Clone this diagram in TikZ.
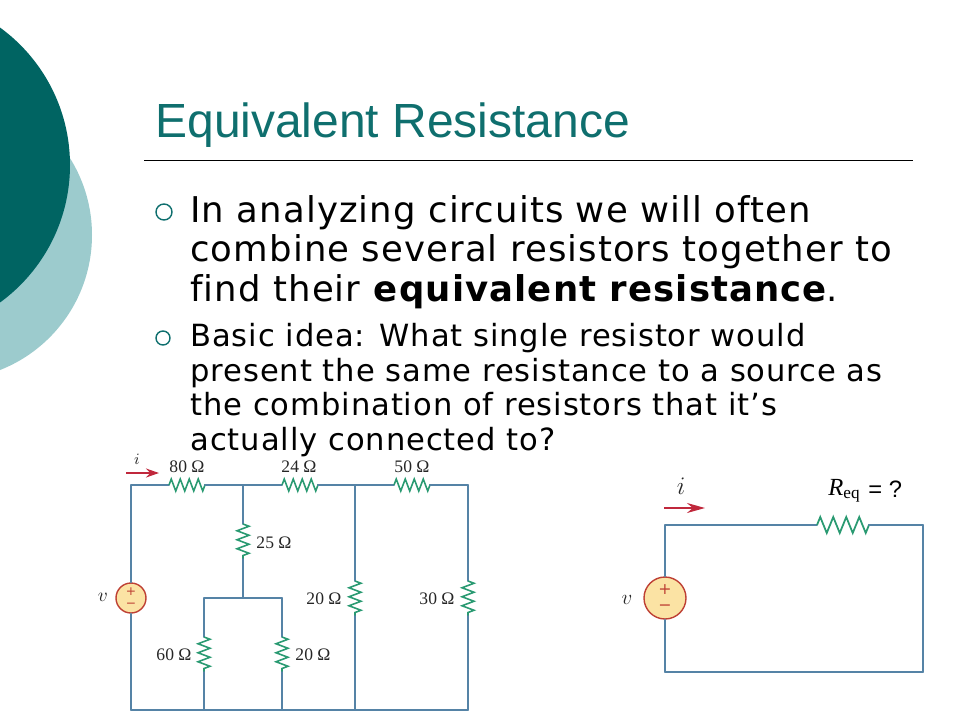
\documentclass[tikz,border=0pt]{standalone}
\usepackage{fontspec}
\setmainfont[LetterSpace=3.1,Ligatures=NoCommon]{DejaVu Sans}
\newfontfamily\titlefont{Liberation Sans}
\newfontfamily\circfont{Liberation Serif}
\newfontfamily\signfont{DejaVu Sans}
\usetikzlibrary{arrows.meta,decorations.pathmorphing}
\definecolor{tealdark}{HTML}{006462}
\definecolor{teallight}{HTML}{9CCBCD}
\definecolor{titleteal}{HTML}{0F6F6E}
\definecolor{wireblue}{HTML}{5583A6}
\definecolor{resgreen}{HTML}{2A9A72}
\definecolor{arrowred}{HTML}{C0283C}
\definecolor{srcfill}{HTML}{FBE3A4}
\definecolor{srcline}{HTML}{BE4034}
\tikzset{
  wire/.style={draw=wireblue,line width=0.9pt,line cap=round},
  res/.style={draw=resgreen,line width=0.9pt,decorate,
    decoration={zigzag,segment length=0.18cm,amplitude=0.12cm}},
  resbig/.style={draw=resgreen,line width=1pt,decorate,
    decoration={zigzag,segment length=0.26cm,amplitude=0.16cm}},
  cur/.style={draw=arrowred,line width=1pt,-{Stealth[length=2.6mm,width=1.8mm]}},
  curbig/.style={draw=arrowred,line width=1.2pt,-{Stealth[length=3.6mm,width=2mm]}},
  src/.style={circle,draw=srcline,fill=srcfill,line width=0.8pt,inner sep=0pt},
  sign/.style={text=srcline,inner sep=0pt,font=\signfont\fontsize{#1}{#1}\selectfont},
  lab/.style={anchor=base,inner sep=0pt,font=\circfont\fontsize{10}{10}\selectfont,text=black!85},
  big/.style={anchor=base west,inner sep=0pt,font=\fontsize{20.2}{23}\selectfont},
  small/.style={anchor=base west,inner sep=0pt,font=\fontsize{17.4}{20}\selectfont},
  bul/.style={circle,draw=titleteal,line width=0.8pt,inner sep=0pt}
}
\begin{document}
\begin{tikzpicture}
    \def\x{0.02}
    \def\y{-0.02}
    \useasboundingbox (0,0) rectangle (960*\x,720*\y);
    \clip (0,0) rectangle (960*\x,720*\y);
    \fill [teallight] (-53*\x,235*\y) circle [radius=145*\x];
    \fill [tealdark] (-100*\x,165*\y) circle [radius=170*\x];
    \node (T0) [anchor=base west,inner sep=0pt,text=titleteal,font=\titlefont\fontsize{27.3}{30}\selectfont] at (155*\x,137*\y) {Equivalent Resistance};
    \coordinate (T1) at (144*\x,160*\y);
    \coordinate (T2) at (913*\x,160*\y);
    \path (T1) edge [draw=black,line width=0.5pt] (T2);
    \node (B0) [bul,minimum size=16*\x cm] at (164*\x,212*\y) {};
    \node (B1) [bul,minimum size=14*\x cm] at (163*\x,338*\y) {};
    \node (L0) [big] at (190*\x,222*\y) {In analyzing circuits we will often};
    \node (L1) [big] at (190*\x,261*\y) {combine several resistors together to};
    \node (L2) [big] at (190*\x,301*\y) {find their \textbf{equivalent resistance}.};
    \node (L3) [small] at (190*\x,346*\y) {Basic idea: What single resistor would};
    \node (L4) [small] at (190*\x,381*\y) {present the same resistance to a source as};
    \node (L5) [small] at (190*\x,415*\y) {the combination of resistors that it’s};
    \node (L6) [small] at (190*\x,450*\y) {actually connected to?};
    \coordinate (A0_0) at (131*\x,485*\y);
    \coordinate (A0_1) at (169*\x,485*\y);
    \coordinate (A0_2) at (205*\x,485*\y);
    \coordinate (A0_3) at (243*\x,485*\y);
    \coordinate (A0_4) at (282*\x,485*\y);
    \coordinate (A0_5) at (318*\x,485*\y);
    \coordinate (A0_6) at (355*\x,485*\y);
    \coordinate (A0_7) at (394*\x,485*\y);
    \coordinate (A0_8) at (430*\x,485*\y);
    \coordinate (A0_9) at (468*\x,485*\y);
    \coordinate (A1_0) at (243*\x,524*\y);
    \coordinate (A1_1) at (243*\x,559*\y);
    \coordinate (A2_0) at (204*\x,598*\y);
    \coordinate (A2_1) at (243*\x,598*\y);
    \coordinate (A2_2) at (282*\x,598*\y);
    \coordinate (A3_0) at (355*\x,581*\y);
    \coordinate (A3_1) at (355*\x,616*\y);
    \coordinate (A3_2) at (468*\x,581*\y);
    \coordinate (A3_3) at (468*\x,616*\y);
    \coordinate (A4_0) at (204*\x,637*\y);
    \coordinate (A4_1) at (204*\x,672*\y);
    \coordinate (A4_2) at (282*\x,637*\y);
    \coordinate (A4_3) at (282*\x,672*\y);
    \coordinate (A5_0) at (131*\x,710*\y);
    \coordinate (A5_1) at (204*\x,710*\y);
    \coordinate (A5_2) at (282*\x,710*\y);
    \coordinate (A5_3) at (355*\x,710*\y);
    \coordinate (A5_4) at (468*\x,710*\y);
    \coordinate (A6_0) at (126*\x,473*\y);
    \coordinate (A6_1) at (159*\x,473*\y);
    \node (A_src) [src,minimum size=30*\x cm] at (131*\x,598*\y) {};
    \path (A_src) edge [wire] (A0_0);
    \path (A_src) edge [wire] (A5_0);
    \path (A0_0) edge [wire] (A0_1);
    \path (A0_1) edge [res] (A0_2);
    \path (A0_2) edge [wire] (A0_4);
    \path (A0_4) edge [res] (A0_5);
    \path (A0_5) edge [wire] (A0_7);
    \path (A0_7) edge [res] (A0_8);
    \path (A0_8) edge [wire] (A0_9);
    \path (A0_3) edge [wire] (A1_0);
    \path (A1_0) edge [res] (A1_1);
    \path (A1_1) edge [wire] (A2_1);
    \path (A2_0) edge [wire] (A2_2);
    \path (A2_0) edge [wire] (A4_0);
    \path (A4_0) edge [res] (A4_1);
    \path (A4_1) edge [wire] (A5_1);
    \path (A2_2) edge [wire] (A4_2);
    \path (A4_2) edge [res] (A4_3);
    \path (A4_3) edge [wire] (A5_2);
    \path (A0_6) edge [wire] (A3_0);
    \path (A3_0) edge [res] (A3_1);
    \path (A3_1) edge [wire] (A5_3);
    \path (A0_9) edge [wire] (A3_2);
    \path (A3_2) edge [res] (A3_3);
    \path (A3_3) edge [wire] (A5_4);
    \path (A5_0) edge [wire] (A5_4);
    \path (A6_0) edge [cur] (A6_1);
    \node (P0) [sign=7] at (131*\x,592*\y) {+};
    \node (M0) [sign=7] at (131*\x,605*\y) {−};
    \node (V0) [lab,font=\fontsize{11}{11}\selectfont] at (103*\x,601*\y) {$v$};
    \node (I0) [lab,font=\fontsize{9}{10}\selectfont] at (137*\x,464*\y) {$i$};
    \node (R0) [lab] at (187*\x,472*\y) {80 Ω};
    \node (R1) [lab] at (299*\x,472*\y) {24 Ω};
    \node (R2) [lab] at (412*\x,472*\y) {50 Ω};
    \node (R3) [lab] at (274*\x,548*\y) {25 Ω};
    \node (R4) [lab] at (324*\x,604*\y) {20 Ω};
    \node (R5) [lab] at (437*\x,604*\y) {30 Ω};
    \node (R6) [lab] at (174*\x,660*\y) {60 Ω};
    \node (R7) [lab] at (313*\x,660*\y) {20 Ω};
    \coordinate (C0_0) at (665*\x,525*\y);
    \coordinate (C0_1) at (817*\x,525*\y);
    \coordinate (C0_2) at (869*\x,525*\y);
    \coordinate (C0_3) at (923*\x,525*\y);
    \coordinate (C1_0) at (665*\x,672*\y);
    \coordinate (C1_1) at (923*\x,672*\y);
    \coordinate (C2_0) at (664*\x,508*\y);
    \coordinate (C2_1) at (705*\x,508*\y);
    \node (C_src) [src,minimum size=42*\x cm] at (665*\x,598*\y) {};
    \path (C_src) edge [wire] (C0_0);
    \path (C_src) edge [wire] (C1_0);
    \path (C0_0) edge [wire] (C0_1);
    \path (C0_1) edge [resbig] (C0_2);
    \path (C0_2) edge [wire] (C0_3);
    \path (C0_3) edge [wire] (C1_1);
    \path (C1_0) edge [wire] (C1_1);
    \path (C2_0) edge [curbig] (C2_1);
    \node (P1) [sign=9] at (665*\x,590*\y) {+};
    \node (M1) [sign=9] at (665*\x,608*\y) {−};
    \node (V1) [lab,font=\fontsize{13}{13}\selectfont] at (627*\x,604*\y) {$v$};
    \node (I1) [lab,font=\fontsize{14}{14}\selectfont] at (681*\x,494*\y) {$i$};
    \node (Q0) [anchor=base west,inner sep=0pt,font=\circfont\fontsize{14}{14}\selectfont] at (828*\x,495*\y) {\textit{R}\textsubscript{eq}};
    \node (Q1) [anchor=base west,inner sep=0pt,font=\titlefont\fontsize{13.5}{14}\selectfont] at (868*\x,497*\y) {= ?};
\end{tikzpicture}
\end{document}
